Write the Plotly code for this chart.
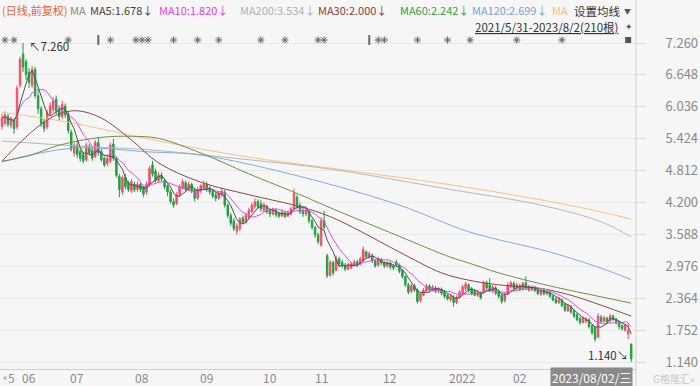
import plotly.graph_objects as go

# ---------------- data ----------------
opens = [5.66,5.72,5.85,5.68,5.78,5.65,6.45,7.05,6.90,6.70,
         6.45,6.75,6.25,6.00,5.75,5.65,5.90,5.98,6.18,6.00,
         5.85,6.05,5.90,5.55,5.15,5.30,5.18,5.12,5.02,5.28,
         5.20,5.08,5.35,5.18,5.05,4.95,5.00,5.32,5.05,4.70,
         4.40,4.68,4.58,4.42,4.55,4.45,4.55,4.50,4.40,4.55,
         4.92,4.80,4.62,4.72,4.62,4.52,4.40,4.22,4.18,4.35,
         4.48,4.58,4.45,4.55,4.45,4.28,4.42,4.48,4.55,4.48,
         4.42,4.35,4.28,4.35,4.40,4.15,3.95,3.85,3.65,3.70,
         3.90,3.82,3.92,4.02,4.12,4.22,4.18,4.05,4.12,4.05,
         3.98,4.05,4.00,3.94,4.00,3.94,3.98,4.08,4.30,4.15,
         4.05,3.98,4.02,3.85,3.72,3.58,3.38,3.85,3.18,2.80,
         3.05,2.90,3.12,3.05,3.00,2.92,2.95,3.00,3.06,3.02,
         3.08,3.25,3.16,3.18,3.08,3.00,3.10,3.05,2.98,3.04,
         2.98,3.06,3.00,2.90,2.78,2.62,2.50,2.60,2.52,2.32,
         2.42,2.50,2.60,2.52,2.56,2.50,2.54,2.48,2.42,2.34,
         2.38,2.28,2.38,2.46,2.55,2.62,2.55,2.50,2.42,2.46,
         2.48,2.66,2.62,2.50,2.56,2.50,2.42,2.32,2.45,2.58,
         2.65,2.55,2.60,2.54,2.66,2.58,2.52,2.57,2.53,2.44,
         2.52,2.45,2.48,2.40,2.35,2.28,2.33,2.25,2.12,2.20,
         2.12,2.05,1.98,1.90,1.92,1.95,1.84,1.80,1.62,2.00,
         1.92,1.98,1.93,2.02,1.96,1.92,1.84,1.75,1.68,1.48]
highs = [5.90,5.95,5.90,5.85,5.82,6.45,7.00,7.26,6.95,6.78,
         6.82,6.80,6.35,6.05,5.80,5.98,6.12,6.22,6.25,6.05,
         6.15,6.10,5.95,5.60,5.35,5.38,5.22,5.18,5.35,5.32,
         5.25,5.40,5.45,5.22,5.08,5.10,5.35,5.42,5.08,4.75,
         4.72,4.75,4.62,4.65,4.60,4.60,4.58,4.52,4.60,4.90,
         5.00,4.85,4.78,4.78,4.66,4.55,4.45,4.28,4.40,4.55,
         4.65,4.62,4.60,4.58,4.48,4.50,4.55,4.62,4.60,4.52,
         4.45,4.40,4.42,4.48,4.45,4.18,4.00,3.90,3.80,3.92,
         3.95,4.00,4.10,4.20,4.28,4.26,4.25,4.20,4.16,4.08,
         4.10,4.08,4.03,4.06,4.04,4.05,4.12,4.47,4.35,4.20,
         4.10,4.10,4.05,3.88,3.75,3.62,3.90,4.04,3.22,3.10,
         3.08,3.18,3.16,3.10,3.04,3.05,3.06,3.10,3.10,3.16,
         3.36,3.28,3.26,3.22,3.12,3.16,3.14,3.08,3.08,3.07,
         3.02,3.10,3.03,2.92,2.80,2.66,2.64,2.64,2.55,2.48,
         2.56,2.64,2.63,2.62,2.60,2.58,2.57,2.52,2.45,2.44,
         2.42,2.42,2.52,2.62,2.68,2.65,2.58,2.54,2.52,2.50,
         2.70,2.70,2.75,2.62,2.60,2.53,2.45,2.48,2.67,2.70,
         2.68,2.66,2.64,2.68,2.79,2.62,2.61,2.60,2.56,2.54,
         2.55,2.53,2.52,2.43,2.38,2.38,2.36,2.28,2.25,2.23,
         2.15,2.08,2.01,2.02,2.00,1.98,1.86,1.83,2.08,2.04,
         2.03,2.01,2.06,2.05,1.99,1.93,1.86,1.87,1.88,1.50]
lows = [5.60,5.68,5.65,5.62,5.52,5.60,6.40,6.70,6.55,6.40,
        6.40,6.20,5.90,5.65,5.55,5.60,5.85,5.92,5.90,5.78,
        5.80,5.82,5.52,5.18,5.08,5.05,4.98,4.95,4.98,5.10,
        5.00,5.05,5.10,4.98,4.88,4.90,4.96,5.00,4.68,4.30,
        4.35,4.45,4.40,4.38,4.40,4.40,4.40,4.30,4.35,4.50,
        4.70,4.58,4.58,4.60,4.45,4.32,4.18,4.10,4.15,4.30,
        4.45,4.40,4.42,4.38,4.22,4.25,4.38,4.45,4.40,4.35,
        4.28,4.22,4.25,4.30,4.10,3.90,3.75,3.65,3.59,3.65,
        3.78,3.80,3.88,4.00,4.08,4.08,4.02,4.02,3.98,3.92,
        3.95,3.92,3.90,3.92,3.90,3.92,3.95,4.05,4.08,3.98,
        3.92,3.94,3.80,3.68,3.52,3.40,3.35,3.68,2.75,2.78,
        2.80,2.88,2.98,2.94,2.88,2.90,2.92,2.97,2.96,3.00,
        3.05,3.12,3.12,3.04,2.95,2.97,3.00,2.94,2.95,2.92,
        2.90,2.96,2.84,2.74,2.58,2.44,2.46,2.48,2.26,2.28,
        2.40,2.47,2.48,2.49,2.46,2.46,2.42,2.36,2.32,2.30,
        2.20,2.25,2.35,2.44,2.50,2.48,2.42,2.40,2.39,2.34,
        2.45,2.52,2.48,2.46,2.42,2.36,2.26,2.28,2.42,2.55,
        2.52,2.52,2.50,2.52,2.52,2.49,2.50,2.48,2.42,2.40,
        2.42,2.42,2.37,2.30,2.25,2.25,2.19,2.10,2.10,2.06,
        1.98,1.92,1.86,1.88,1.88,1.78,1.66,1.53,1.60,1.88,
        1.90,1.88,1.90,1.93,1.86,1.76,1.74,1.72,1.58,1.14]
closes = [5.82,5.88,5.70,5.80,5.62,6.40,6.95,6.80,6.65,6.50,
          6.75,6.25,6.00,5.72,5.62,5.92,6.05,6.15,5.95,5.85,
          6.08,5.88,5.58,5.22,5.30,5.12,5.05,5.00,5.30,5.15,
          5.05,5.35,5.15,5.02,4.92,5.05,5.30,5.05,4.72,4.45,
          4.68,4.50,4.45,4.60,4.45,4.55,4.45,4.36,4.55,4.85,
          4.75,4.62,4.72,4.65,4.50,4.40,4.22,4.15,4.35,4.50,
          4.60,4.45,4.55,4.42,4.28,4.45,4.52,4.55,4.45,4.40,
          4.32,4.28,4.38,4.42,4.15,3.95,3.80,3.70,3.75,3.88,
          3.82,3.95,4.05,4.15,4.22,4.12,4.08,4.15,4.02,3.98,
          4.06,3.96,3.94,4.02,3.93,4.00,4.08,4.38,4.12,4.02,
          3.98,4.05,3.85,3.72,3.58,3.45,3.85,3.72,2.80,3.05,
          2.85,3.12,3.02,2.98,2.92,3.00,3.02,3.06,3.00,3.12,
          3.30,3.16,3.22,3.08,2.98,3.12,3.04,2.98,3.05,2.96,
          2.94,3.00,2.88,2.78,2.62,2.48,2.60,2.52,2.30,2.45,
          2.52,2.60,2.52,2.58,2.50,2.55,2.46,2.40,2.35,2.40,
          2.28,2.38,2.48,2.58,2.64,2.52,2.45,2.42,2.48,2.37,
          2.66,2.56,2.50,2.58,2.46,2.40,2.30,2.44,2.62,2.66,
          2.55,2.62,2.53,2.65,2.56,2.52,2.58,2.51,2.45,2.50,
          2.45,2.50,2.40,2.33,2.28,2.35,2.22,2.13,2.22,2.10,
          2.02,1.95,1.90,1.98,1.96,1.82,1.70,1.58,2.02,1.92,
          1.99,1.91,2.02,1.96,1.90,1.82,1.78,1.85,1.74,1.20]

# long moving averages: (bar index, value)
ma30_idx = [0, 6, 13, 19, 25, 33, 43, 52, 66, 82, 99, 109, 119, 132, 146, 155, 165, 179, 189, 199, 209]
ma30_val = [4.99, 5.35, 5.70, 5.90, 5.96, 5.82, 5.40, 4.96, 4.59, 4.35, 4.12, 3.93, 3.65, 3.25, 2.85, 2.71, 2.62, 2.55, 2.42, 2.23, 2.02]
ma60_idx = [0, 9, 19, 33, 43, 52, 66, 82, 99, 109, 132, 149, 155, 165, 182, 199, 209]
ma60_val = [4.99, 5.10, 5.30, 5.45, 5.47, 5.43, 5.15, 4.75, 4.35, 4.10, 3.55, 3.15, 3.04, 2.85, 2.60, 2.39, 2.27]
ma120_idx = [0, 23, 49, 66, 99, 132, 155, 182, 199, 209]
ma120_val = [4.98, 5.24, 5.17, 5.11, 4.70, 4.15, 3.64, 3.25, 2.94, 2.72]
ma200_idx = [0, 26, 49, 82, 109, 149, 179, 199, 209]
ma200_val = [5.38, 5.28, 5.21, 5.02, 4.84, 4.45, 4.15, 3.83, 3.54]
ma250_idx = [0, 22, 52, 82, 109, 149, 179, 199, 209]
ma250_val = [5.93, 5.74, 5.38, 5.07, 4.86, 4.54, 4.25, 4.02, 3.88]

y_ticks = [7.260, 6.648, 6.036, 5.424, 4.812, 4.200, 3.588, 2.976, 2.364, 1.752, 1.140]
x_tick_idx = [3, 9, 25, 46.5, 68, 89, 106, 129, 153, 172]
x_tick_txt = ["5", "06", "07", "08", "09", "10", "11", "12", "2022", "02"]

event_idx = [1, 4, 22, 36, 44.5, 46.5, 48.5, 57, 65, 72, 86, 94, 105, 107, 125, 127, 138, 148, 155.5, 171, 186]
event2_idx = [32, 122]
last_idx = [208]

legend_items = [("(日线,前复权)", "#e8643c", 0), ("MA", "#888888", 68), ("MA5:1.678↓", "#444444", 88),
                ("MA10:1.820↓", "#e040e0", 157), ("MA200:3.534↓", "#b0b0b0", 238),
                ("MA30:2.000↓", "#8c3a3a", 316), ("MA60:2.242↓", "#3c9a3c", 398),
                ("MA120:2.699↓", "#7aa0d8", 470), ("MA", "#f0c080", 550)]

# ---------------- figure ----------------
W, H = 700, 386
n = len(closes)
idx = list(range(n))


def ma(vals, k):
    out = []
    for i in range(len(vals)):
        w = vals[max(0, i - k + 1):i + 1]
        out.append(sum(w) / len(w))
    return out


def px(x):
    return x / W


def py(y):
    return 1 - y / H


fig = go.Figure()
fig.add_trace(go.Candlestick(
    x=idx, open=opens, high=highs, low=lows, close=closes,
    increasing=dict(line=dict(color="#f0506a", width=1), fillcolor="#f0506a"),
    decreasing=dict(line=dict(color="#22a040", width=1), fillcolor="#22a040"),
    hoverinfo="skip", showlegend=False))

for xs, ys, col in [(ma250_idx, ma250_val, "#f3c585"), (ma200_idx, ma200_val, "#b8b8b8"),
                    (ma120_idx, ma120_val, "#86a9e0"), (ma60_idx, ma60_val, "#6f8f45"),
                    (ma30_idx, ma30_val, "#8c4a4a")]:
    fig.add_trace(go.Scatter(x=xs, y=ys, mode="lines", line=dict(color=col, width=1, shape="spline", smoothing=1.0),
                             hoverinfo="skip", showlegend=False))

fig.add_trace(go.Scatter(x=idx, y=ma(closes, 10), mode="lines", line=dict(color="#e050e0", width=1),
                         hoverinfo="skip", showlegend=False))
fig.add_trace(go.Scatter(x=idx, y=ma(closes, 5), mode="lines", line=dict(color="#505050", width=1),
                         hoverinfo="skip", showlegend=False))

y_top = y_ticks[0] + (43 - 35) / 52.12
y_bot = y_ticks[-1] - (369 - 362) / 52.12
ev_y = y_ticks[0] + 3 / 52.12
fig.add_trace(go.Scatter(x=event_idx, y=[ev_y] * len(event_idx), mode="markers",
                         marker=dict(symbol="asterisk-open", size=6, color="#666", line=dict(width=1, color="#666")),
                         hoverinfo="skip", showlegend=False))
fig.add_trace(go.Scatter(x=event2_idx, y=[ev_y] * len(event2_idx), mode="markers",
                         marker=dict(symbol="line-ns-open", size=7, color="#666", line=dict(width=2, color="#666")),
                         hoverinfo="skip", showlegend=False))
fig.add_trace(go.Scatter(x=last_idx, y=[ev_y], mode="markers",
                         marker=dict(symbol="square", size=6, color="#555"),
                         hoverinfo="skip", showlegend=False))

font = "Noto Sans CJK SC"
ann = []
for txt, col, x0 in legend_items:
    ann.append(dict(text=txt, x=px(x0), y=py(10), xref="paper", yref="paper", xanchor="left", yanchor="middle",
                    showarrow=False, font=dict(family=font, size=11, color=col)))
ann.append(dict(text="设置均线", x=px(572), y=py(11), xref="paper", yref="paper", xanchor="left", yanchor="middle",
                showarrow=False, font=dict(family=font, size=11.5, color="#333"), bgcolor="#f6f6f6"))
ann.append(dict(text="▼", x=px(627), y=py(11), xref="paper", yref="paper", xanchor="center", yanchor="middle",
                showarrow=False, font=dict(family=font, size=7, color="#555")))
ann.append(dict(text="<u>2021/5/31-2023/8/2(210根)</u>", x=px(620), y=py(27), xref="paper", yref="paper",
                xanchor="right", yanchor="middle", showarrow=False, font=dict(family=font, size=11.5, color="#333")))
ann.append(dict(text="✦", x=px(629), y=py(26), xref="paper", yref="paper", xanchor="center", yanchor="middle",
                showarrow=False, font=dict(family=font, size=9, color="#555")))
ann.append(dict(text="↖7.260", x=7, y=highs[7], xref="x", yref="y", xanchor="left", yanchor="middle",
                xshift=4, yshift=-3, showarrow=False, font=dict(family=font, size=11.5, color="#333")))
ann.append(dict(text="1.140↘", x=209, y=lows[209], xref="x", yref="y", xanchor="right", yanchor="middle",
                xshift=-1, yshift=7, showarrow=False, font=dict(family=font, size=11.5, color="#333")))
for tv, tt in zip(x_tick_idx, x_tick_txt):
    ann.append(dict(text=tt, x=tv, y=py(377), xref="x", yref="paper", xanchor="center", yanchor="middle",
                    showarrow=False, font=dict(family=font, size=12, color="#8a8a8a")))
ann.append(dict(text="2023/08/02/三", x=px(591), y=py(377.5), xref="paper", yref="paper", xanchor="center",
                yanchor="middle", showarrow=False, bgcolor="#8a8a8a", borderpad=1,
                font=dict(family=font, size=12, color="#ffffff")))
ann.append(dict(text="«", x=px(5), y=py(377), xref="paper", yref="paper", xanchor="center", yanchor="middle",
                showarrow=False, font=dict(family=font, size=9, color="#888")))
ann.append(dict(text="G格隆汇»", x=px(697), y=py(378), xref="paper", yref="paper", xanchor="right",
                yanchor="middle", showarrow=False, font=dict(family=font, size=10, color="#c8c8c8")))

fig.update_layout(
    width=W, height=H, margin=dict(l=0, r=0, t=0, b=0),
    paper_bgcolor="#f6f6f6", plot_bgcolor="#f6f6f6",
    hovermode=False, showlegend=False, annotations=ann,
    xaxis=dict(domain=[0, 636 / W], range=[-0.66, 210.6], rangeslider=dict(visible=False), automargin=False,
               showgrid=False, zeroline=False, showline=True, linecolor="#cfcfcf", linewidth=1,
               showticklabels=False, ticks=""),
    yaxis=dict(domain=[(H - 369) / H, (H - 35) / H], range=[y_bot, y_top], side="right", automargin=False,
               tickmode="array", tickvals=y_ticks, ticktext=[f"{v:.3f}" for v in y_ticks],
               showgrid=True, gridcolor="#e9e9e9", gridwidth=1, zeroline=False, showline=False,
               ticks="outside", ticklen=8, tickcolor="#d8d8d8", ticklabelstandoff=18,
               tickfont=dict(family=font, size=13, color="#8a8a8a")),
    shapes=[dict(type="line", xref="paper", yref="paper", x0=636 / W, x1=636 / W, y0=0, y1=1,
                 line=dict(color="#cfcfcf", width=1))],
)

fig.write_html("out.html", config={"displayModeBar": False, "staticPlot": True},
               post_script="document.body.style.margin='0';document.body.style.padding='0';"
                           "document.body.style.overflow='hidden';")
